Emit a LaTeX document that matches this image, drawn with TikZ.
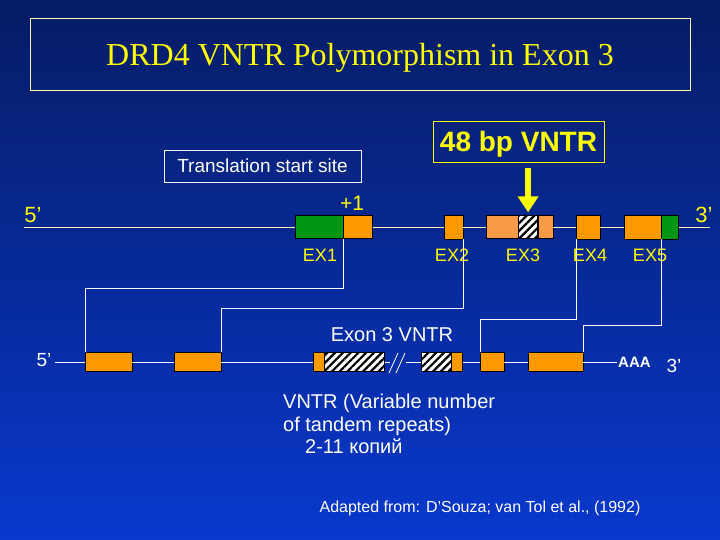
\documentclass[tikz,border=0pt]{standalone}
\usepackage{fontspec}
\setmainfont{Liberation Serif}
\newfontfamily\arialfont{Liberation Sans}
\usetikzlibrary{arrows.meta,patterns.meta,positioning}

\definecolor{exorange}{RGB}{255,153,0}
\definecolor{exlight}{RGB}{247,155,70}
\definecolor{exgreen}{RGB}{0,150,20}
\definecolor{slideyellow}{RGB}{255,255,0}
\definecolor{paleyellow}{RGB}{255,255,170}
\definecolor{bgtop}{RGB}{6,28,100}
\definecolor{bgbottom}{RGB}{8,56,205}

\begin{document}
\begin{tikzpicture}[x=1bp, y=-1bp,
  exon/.style={draw=black, fill=exorange, inner sep=0pt, anchor=west, minimum height=23bp},
  hatched/.style={draw=black, fill=white, inner sep=0pt, anchor=west, minimum height=23bp,
    postaction={pattern={Lines[angle=45,distance=5.5bp,line width=2.2bp]}, pattern color=black}},
  dna/.style={draw=paleyellow, line width=0.8bp},
  splice/.style={draw=white, line width=0.8bp},
  sans/.style={font=\arialfont\fontsize{#1}{#1}\selectfont},
  exlabel/.style={sans=18bp, text=slideyellow}]

% slide background
\shade[top color=bgtop, bottom color=bgbottom] (0,0) rectangle (720,540);

\node[draw=paleyellow, line width=0.8bp, minimum width=660bp, minimum height=72bp, text depth=0pt,
  text=slideyellow, font=\fontsize{32bp}{32bp}\selectfont] (title) at (360,54.5) {DRD4 VNTR Polymorphism in Exon 3};

\node[draw=white, line width=0.8bp, sans=19bp, text=white, minimum width=197bp, minimum height=32bp] (tss) at (262.5,166) {Translation start site};
\node[draw=slideyellow, line width=0.8bp, font=\arialfont\bfseries\fontsize{28bp}{28bp}\selectfont, text=slideyellow,
  minimum width=171bp, minimum height=41bp, text depth=0pt] (vntr) at (518.5,141.5) {48 bp VNTR};

% genomic DNA
\coordinate (top5end) at (24,227);
\coordinate (top3end) at (710,227);
\node[exon, fill=exgreen, minimum width=48bp] (ex1g) at (295,227) {};
\node[exon, minimum width=29bp] (ex1o) at (ex1g.east) {};
\node[exon, minimum width=19bp, minimum height=24bp] (ex2) at (444,227) {};
\node[exon, fill=exlight, minimum width=32bp] (ex3a) at (486,227) {};
\node[hatched, minimum width=19bp] (ex3h) at (ex3a.east) {};
\node[exon, fill=exlight, minimum width=15bp] (ex3b) at (ex3h.east) {};
\node[exon, minimum width=24bp, minimum height=24bp] (ex4) at (576,227) {};
\node[exon, minimum width=37bp, minimum height=24bp] (ex5o) at (624,227) {};
\node[exon, fill=exgreen, minimum width=17bp, minimum height=24bp] (ex5g) at (ex5o.east) {};
\draw[dna] (top5end) -- (ex1g) (ex1o) -- (ex2) -- (ex3a) (ex3b) -- (ex4) -- (ex5o) (ex5g) -- (top3end);

\node[sans=22bp, text=slideyellow] (top5) at (33,215) {5’};
\node[sans=22bp, text=slideyellow] (top3) at (704,215) {3’};
\node[sans=21bp, text=slideyellow] (plusone) at (352,203) {+1};
\node[exlabel] (lab1) at (320,255) {EX1};
\node[exlabel] (lab2) at (452,255) {EX2};
\node[exlabel] (lab3) at (523,255) {EX3};
\node[exlabel] (lab4) at (590,255) {EX4};
\node[exlabel] (lab5) at (650,255) {EX5};

\draw[slideyellow, line width=6bp, -{Triangle[width=20bp,length=16bp]}, shorten >=3bp]
  (vntr.south -| ex3h.north) ++(0,6) -- (ex3h.north);

% mRNA
\coordinate (lo5end) at (55,362);
\coordinate (lo3end) at (617,362);
\coordinate (brkA) at (390,362);
\coordinate (brkB) at (406,362);
\node[exon, minimum width=47bp, minimum height=19bp] (m1) at (85,362) {};
\node[exon, minimum width=47bp, minimum height=19bp] (m2) at (174,362) {};
\node[exon, minimum width=11bp, minimum height=19bp] (m3a) at (313,362) {};
\node[hatched, minimum width=60bp, minimum height=19bp] (m3h) at (m3a.east) {};
\node[hatched, minimum width=30bp, minimum height=19bp] (m3h2) at (421,362) {};
\node[exon, minimum width=11bp, minimum height=19bp] (m3b) at (m3h2.east) {};
\node[exon, minimum width=24bp, minimum height=19bp] (m4) at (480,362) {};
\node[exon, minimum width=55bp, minimum height=19bp] (m5) at (528,362) {};
\draw[splice] (lo5end) -- (m1) -- (m2) -- (m3a) (m3h) -- (brkA) (brkB) -- (m3h2) (m3b) -- (m4) -- (m5) -- (lo3end);
\draw[splice] (389,373) -- (398,353) (396,373) -- (405,353);

\node[sans=19bp, text=white] (lo5) at (44,360) {5’};
\node[font=\arialfont\bfseries\fontsize{15bp}{15bp}\selectfont, text=white, anchor=west, inner sep=1bp] (aaa) at (lo3end) {AAA};
\node[sans=19bp, text=white] (lo3) at (674,366) {3’};
\node[sans=20bp, text=white] (exon3) at (392,335) {Exon 3 VNTR};

% splicing
\draw[splice] (ex1o.south west) -- ++(0,50) -| (m1.north west);
\draw[splice] (ex2.south east) -- ++(0,69) -| (m2.north east);
\draw[splice] (ex4.south west) -- ++(0,80) -| (m4.north west);
\draw[splice] (ex5o.south east) -- ++(0,86) -| (m5.north east);

\node[font=\arialfont\fontsize{20bp}{22.5bp}\selectfont, text=white, align=left, anchor=north west, inner sep=0pt] (note)
  at (283,394) {VNTR (Variable number\\of tandem repeats)\\\hspace*{22bp}2-11 копий};
\node[sans=16bp, text=white, text depth=0pt] (source) at (480,507) {Adapted from: D’Souza; van Tol et al., (1992)};
\end{tikzpicture}
\end{document}
